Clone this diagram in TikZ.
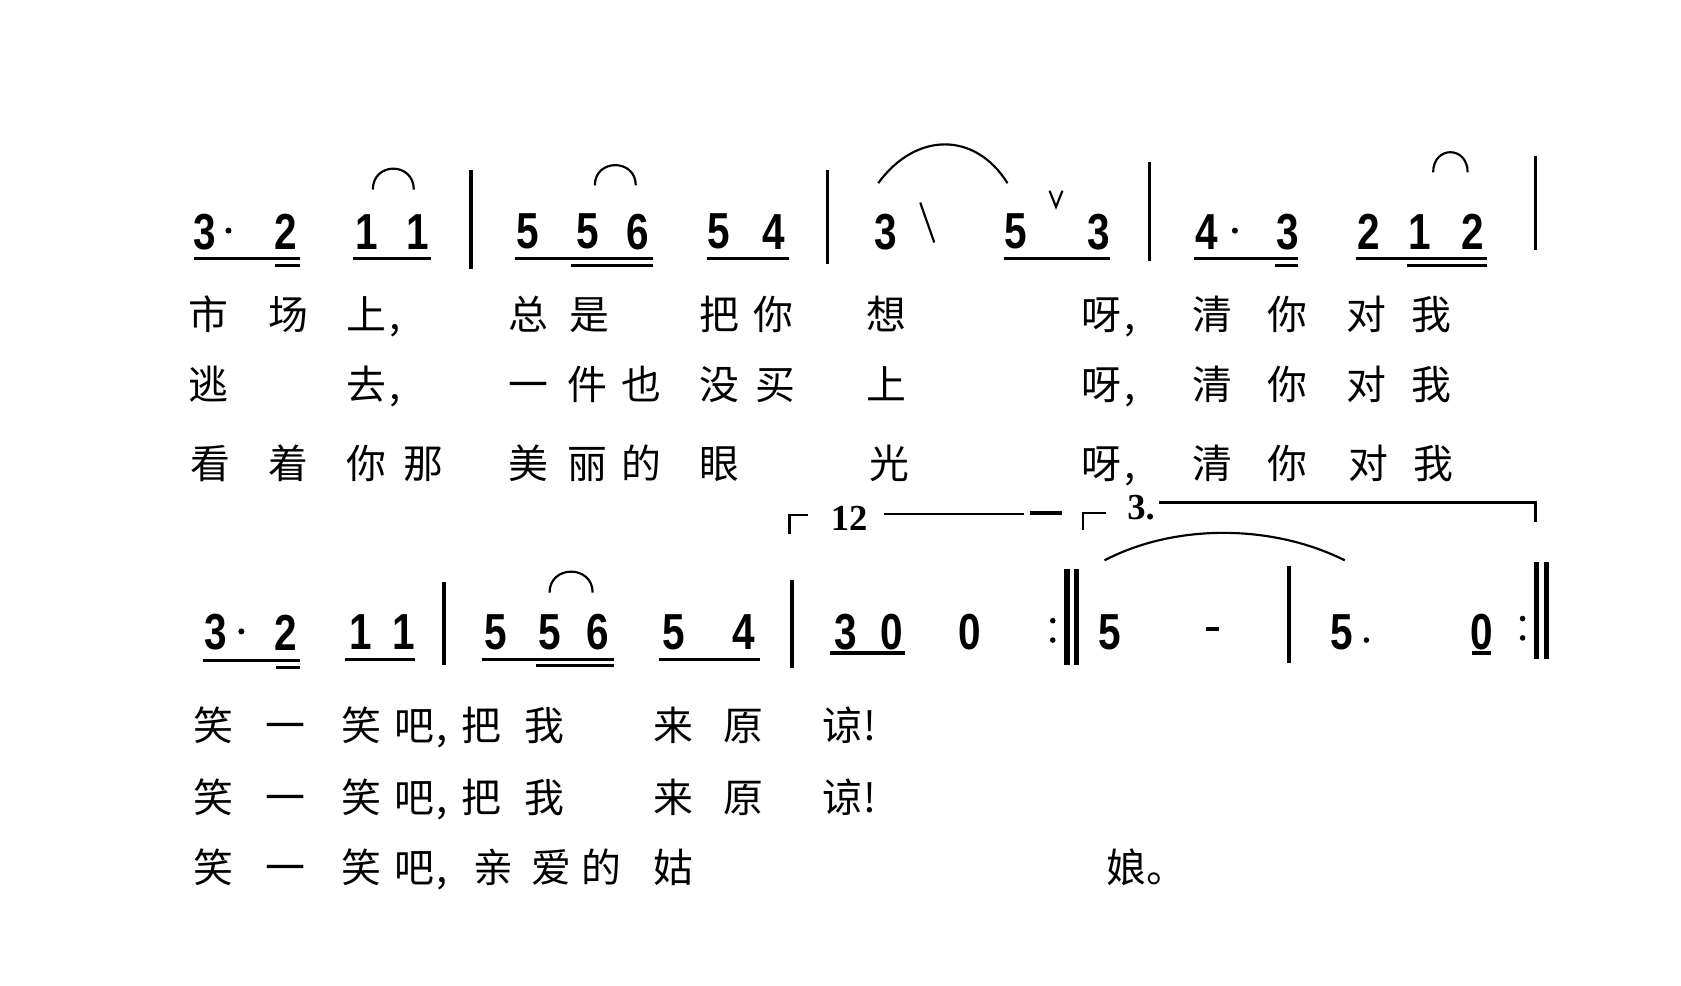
\documentclass[tikz,border=0pt]{standalone}
\usepackage{fontspec}
\newfontfamily\cjk{Noto Sans CJK SC}
\newfontfamily\numfont[FakeStretch=0.8]{Liberation Sans}
\newfontfamily\voltafont{Liberation Serif}
\begin{document}
\begin{tikzpicture}[x=0.5pt,y=-0.5pt,
  nt/.style={font=\numfont\bfseries\fontsize{23.5}{24}\selectfont, inner sep=0pt, anchor=center},
  ly/.style={font=\cjk\fontsize{18.5}{18.5}\selectfont, inner sep=0pt, anchor=base},
  pn/.style={font=\cjk\fontsize{18.5}{18.5}\selectfont, inner sep=0pt, anchor=base west},
  vt/.style={font=\voltafont\bfseries\fontsize{17}{17}\selectfont, inner sep=0pt},
  ul/.style={line width=1.4pt},
  barl/.style={line width=1.6pt},
  thick bar/.style={line width=2.6pt},
  tie/.style={line width=1pt},
  thinl/.style={line width=1pt},
  volta/.style={line width=1.3pt}]
\useasboundingbox (0,0) rectangle (1560,915);

% ---------------- Row 1 notes ----------------
\foreach \d/\x [count=\i] in {3/190,2/265,1/340,1/388,5/490,5/545,6/592,5/667,4/718,3/822,5/943,3/1020,4/1120,3/1195,2/1270,1/1318,2/1367}
  \node[nt] (a\i) at (\x,215) {\d};
\fill (212,214) circle (2.8);
\fill (1146,214) circle (2.8);
% underlines row 1
\draw[ul] (180,240) -- (278,240);
\draw[ul] (255,246) -- (278,246);
\draw[ul] (328,240) -- (400,240);
\draw[ul] (478,240) -- (606,240);
\draw[ul] (530,246) -- (606,246);
\draw[ul] (656,240) -- (732,240);
\draw[ul] (932,240) -- (1030,240);
\draw[ul] (1108,240) -- (1205,240);
\draw[ul] (1183,246) -- (1205,246);
\draw[ul] (1258,240) -- (1380,240);
\draw[ul] (1306,246) -- (1380,246);
% barlines row 1
\draw[barl] (437,158) -- (437,250);
\draw[barl] (768,158) -- (768,245);
\draw[barl] (1067,150) -- (1067,242);
\draw[barl] (1425,145) -- (1425,232);
% ties row 1
\draw[tie] (346,176) .. controls (346,150) and (384,150) .. (384,176);
\draw[tie] (552,172) .. controls (552,147) and (590,147) .. (590,172);
\draw[tie] (815,170) .. controls (850,122) and (905,122) .. (935,170);
\draw[tie] (1330,160) .. controls (1330,135) and (1362,135) .. (1362,160);
% slash and breath mark
\draw[thinl] (854,188) -- (867,225);
\draw[thinl] (974,177) -- (980,192) -- (986,177);

% ---------------- Lyrics rows 1-3 ----------------
\foreach \t/\x [count=\i] in {市/193,场/268,上/340,总/490,是/547,把/668,你/718,想/823,呀/1022,清/1125,你/1195,对/1268,我/1328}
  \node[ly] (la\i) at (\x,306) {\t};
\node[pn] (pa1) at (361,306) {,};
\node[pn] (pa2) at (1043,306) {,};
\foreach \t/\x [count=\i] in {逃/193,去/340,一/490,件/545,也/595,没/668,买/720,上/823,呀/1022,清/1125,你/1195,对/1268,我/1328}
  \node[ly] (lb\i) at (\x,371) {\t};
\node[pn] (pb1) at (361,371) {,};
\node[pn] (pb2) at (1043,371) {,};
\foreach \t/\x [count=\i] in {看/195,着/268,你/340,那/393,美/490,丽/545,的/595,眼/668,光/825,呀/1022,清/1125,你/1195,对/1270,我/1330}
  \node[ly] (lc\i) at (\x,444) {\t};
\node[pn] (pc1) at (1043,444) {,};

% ---------------- Volta brackets ----------------
\draw[volta] (733,496) -- (733,478) -- (750,478);
\node[vt] (v12) at (788,481) {12};
\draw[volta] (820,477) -- (950,477);
\draw[line width=1.8pt] (956,476) -- (986,476);
\draw[volta] (1005,492) -- (1005,476) -- (1026,476);
\node[vt] (v3) at (1059,471) {3.};
\draw[volta] (1076,466) -- (1425,466) -- (1425,484);

% ---------------- Row 2 notes ----------------
\foreach \d/\x [count=\i] in {3/200,2/265,1/335,1/375,5/460,5/510,6/555,5/625,4/690,3/785,0/828,0/900,5/1030,5/1245,0/1375}
  \node[nt] (b\i) at (\x,587) {\d};
\fill (224,586) circle (2.8);
\fill (1268,594) circle (2.6);
\draw[line width=2pt] (1119,584) -- (1131,584);
% underlines row 2
\draw[ul] (188,613) -- (278,613);
\draw[ul] (256,619) -- (278,619);
\draw[ul] (320,612) -- (385,612);
\draw[ul] (447,612) -- (570,612);
\draw[ul] (497,618) -- (570,618);
\draw[ul] (612,612) -- (705,612);
\draw[ul] (770,606) -- (840,606);
\draw[ul] (1366,606) -- (1384,606);
% barlines row 2
\draw[barl] (412,540) -- (412,617);
\draw[barl] (735,538) -- (735,620);
\draw[barl] (1196,525) -- (1196,615);
% repeat bars
\fill (977,576) circle (2.6);
\fill (977,594) circle (2.6);
\draw[thick bar] (990,528) -- (990,617);
\draw[thick bar] (999,528) -- (999,617);
\fill (1413,574) circle (2.6);
\fill (1413,592) circle (2.6);
\draw[thick bar] (1426,522) -- (1426,612);
\draw[thick bar] (1435,522) -- (1435,612);
% ties row 2
\draw[tie] (510,550) .. controls (510,524) and (550,524) .. (550,550);
\draw[tie] (1025,520) .. controls (1090,486) and (1180,486) .. (1248,520);

% ---------------- Lyrics rows 4-6 ----------------
\foreach \t/\x [count=\i] in {笑/198,一/265,笑/335,吧/385,把/447,我/505,来/625,原/690,谅/782}
  \node[ly] (ld\i) at (\x,687) {\t};
\node[pn] (pd1) at (405,687) {,};
\node[pn] (pd2) at (801,687) {!};
\foreach \t/\x [count=\i] in {笑/198,一/265,笑/335,吧/385,把/447,我/505,来/625,原/690,谅/782}
  \node[ly] (le\i) at (\x,754) {\t};
\node[pn] (pe1) at (405,754) {,};
\node[pn] (pe2) at (801,754) {!};
\foreach \t/\x [count=\i] in {笑/198,一/265,笑/335,吧/385,亲/458,爱/512,的/558,姑/625,娘/1045}
  \node[ly] (lf\i) at (\x,819) {\t};
\node[pn] (pf1) at (405,819) {,};
\node[pn] (pf2) at (1064,819) {。};
\end{tikzpicture}
\end{document}
